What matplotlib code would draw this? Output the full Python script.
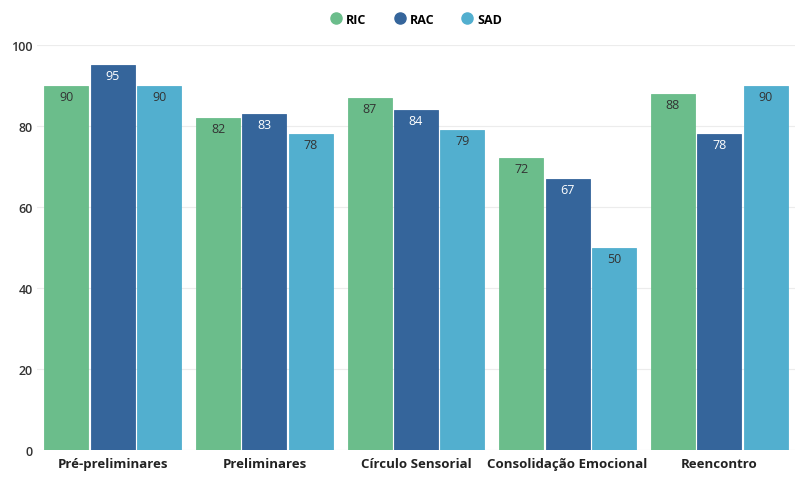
import matplotlib
matplotlib.use("Agg")
import matplotlib.pyplot as plt
from matplotlib.lines import Line2D
import numpy as np

categories = ["Pré-preliminares", "Preliminares", "Círculo Sensorial",
              "Consolidação Emocional", "Reencontro"]
series_names = ["RIC", "RAC", "SAD"]
ric = [90, 82, 87, 72, 88]
rac = [95, 83, 84, 67, 78]
sad = [90, 78, 79, 50, 90]
yticks = [0, 20, 40, 60, 80, 100]

colors = ["#6bbd8b", "#35659b", "#52afcf"]
label_colors = ["#333333", "#ffffff", "#333333"]

plt.rcParams["font.family"] = ["Open Sans", "DejaVu Sans"]

fig = plt.figure(figsize=(7.96, 4.85), dpi=100)
ax = fig.add_axes([37 / 796, 34 / 485, 758 / 796, 405 / 485])

x = np.arange(len(categories))
width = 0.29
offsets = [-0.306, 0.0, 0.306]

for vals, off, col, lc in zip([ric, rac, sad], offsets, colors, label_colors):
    bars = ax.bar(x + off, vals, width=width, color=col, edgecolor=col,
                  linewidth=0.6, zorder=3)
    for b, v in zip(bars, vals):
        ax.text(b.get_x() + b.get_width() / 2, v - 1.0, f"{v}",
                ha="center", va="top", fontsize=9, color=lc, zorder=4)

ax.set_xlim(-0.5, 4.5)
ax.set_ylim(0, 100)
ax.set_yticks(yticks)
ax.set_yticklabels([str(t) for t in yticks], fontsize=9, color="#333333",
                   fontweight="semibold")
ax.set_xticks(x)
ax.set_xticklabels(categories, fontsize=9.5, fontweight="bold", color="#222222")
ax.tick_params(axis="both", length=0)
ax.tick_params(axis="y", pad=3)
ax.tick_params(axis="x", pad=5)
ax.grid(axis="y", color="#ececec", linewidth=0.8, zorder=0)
for s in ax.spines.values():
    s.set_visible(False)

handles = [Line2D([0], [0], marker="o", color="none", markerfacecolor=c,
                  markeredgecolor=c, markersize=8) for c in colors]
fig.legend(handles, series_names, loc="center", bbox_to_anchor=(0.521, 1 - 20 / 485),
           ncol=3, frameon=False, handletextpad=0.1, handlelength=1.4,
           columnspacing=1.95, prop={"weight": "bold", "size": 9})

fig.savefig("out.png", dpi=100, facecolor="white")
